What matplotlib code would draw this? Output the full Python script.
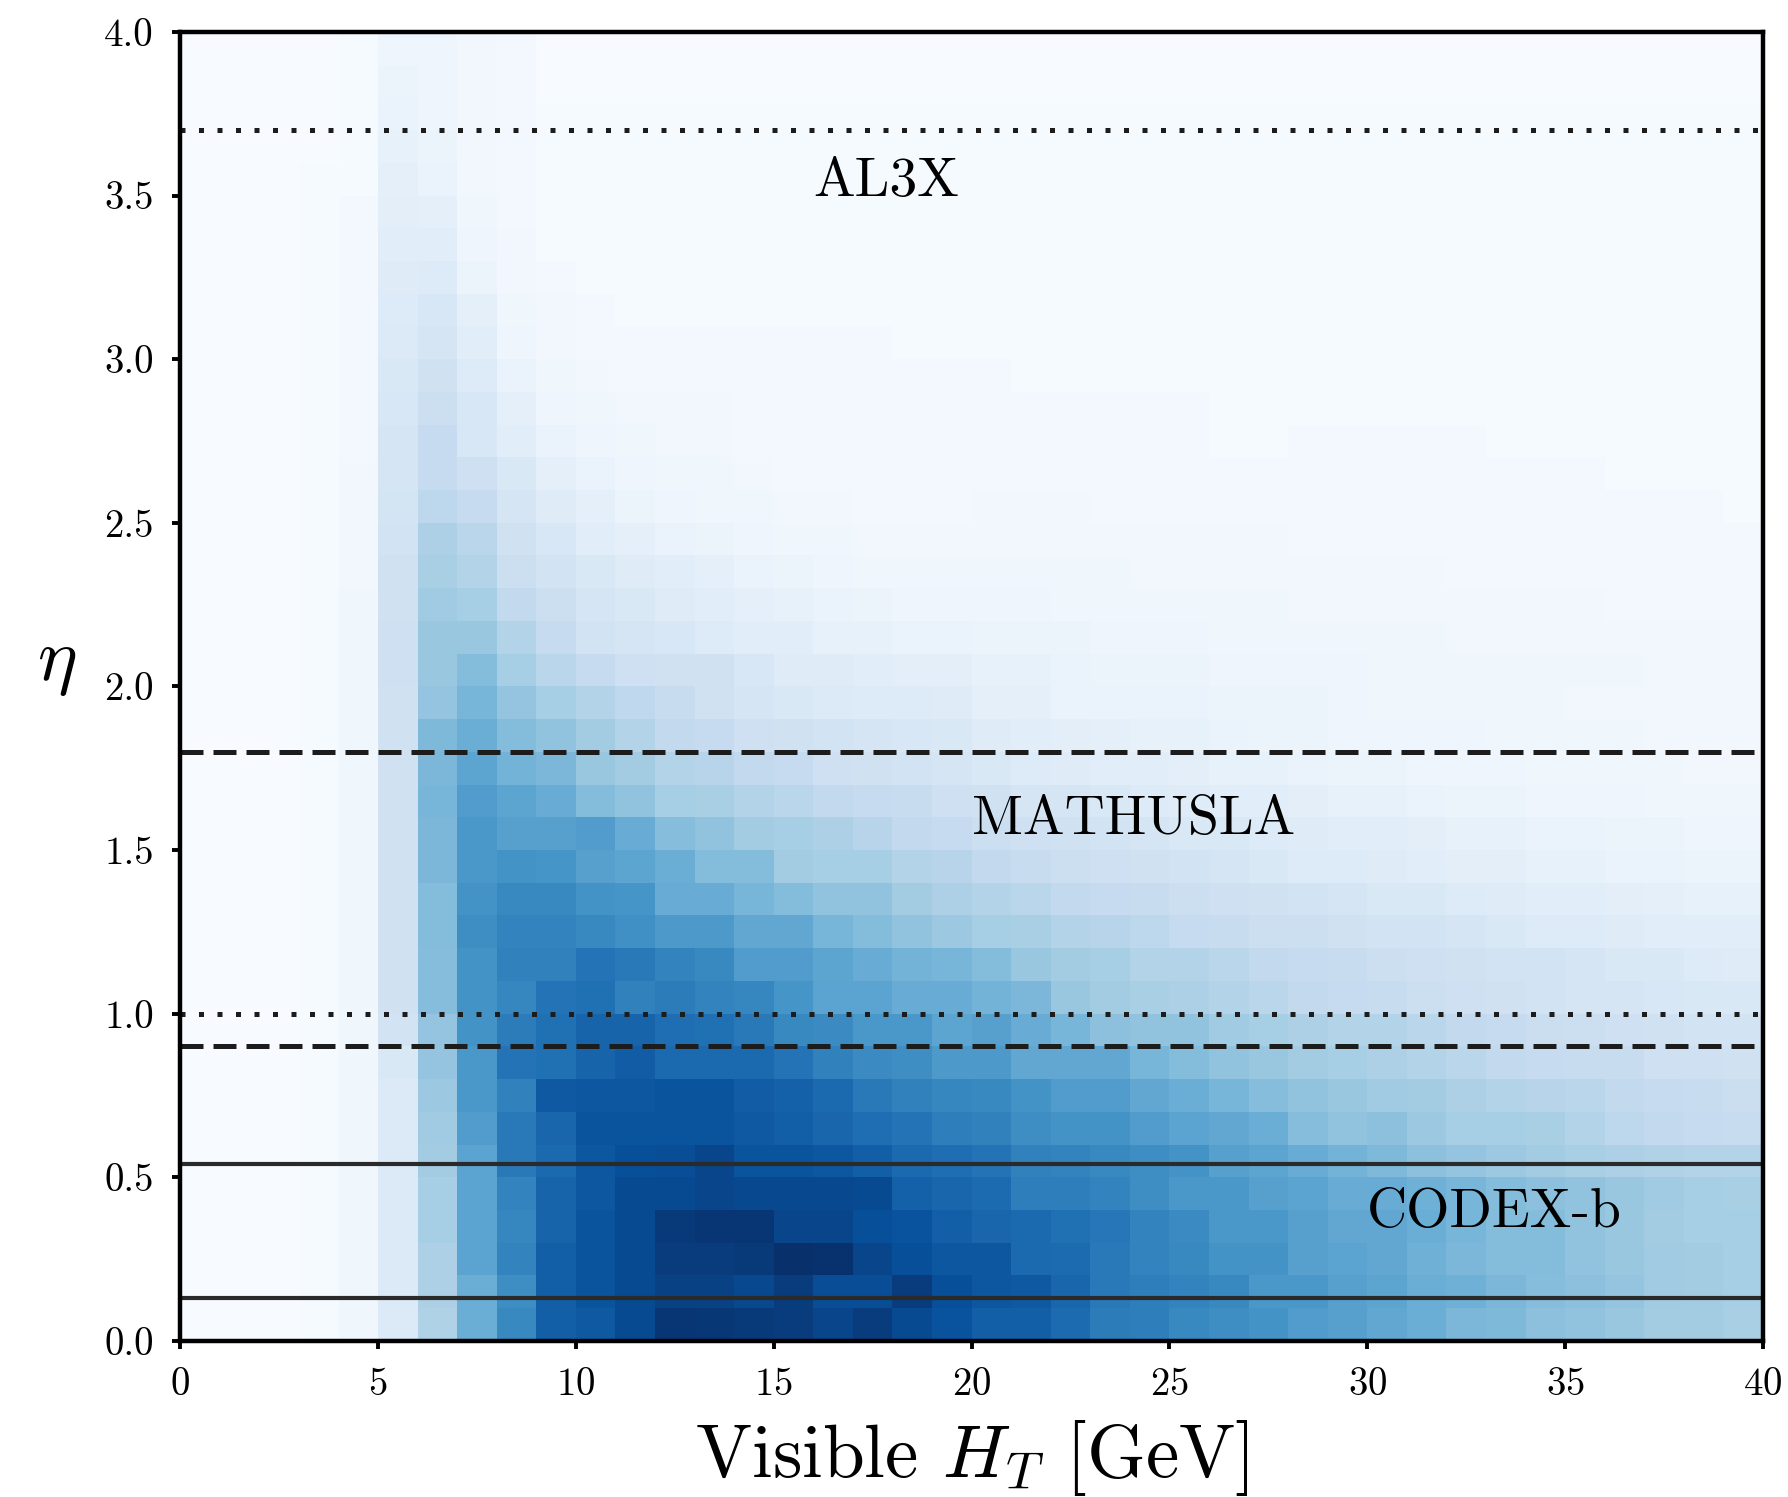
import numpy as np
import matplotlib
matplotlib.use("Agg")
import matplotlib.pyplot as plt
from matplotlib.ticker import FormatStrFormatter

plt.rcParams['font.family'] = 'serif'
plt.rcParams['font.serif'] = ['cmr10']
plt.rcParams['mathtext.fontset'] = 'cm'
plt.rcParams['axes.formatter.use_mathtext'] = True

# bin edges
ht_edges = list(range(0, 41))                      # Visible H_T [GeV]
eta_edges = [i / 10 for i in range(0, 41)]         # eta

# cell intensity (percent of colour scale), rows from eta=0.0-0.1 upward, columns H_T 0..39
density_pct = [
    [0,0,0,1,4,14,32,50,66,82, 84,90,98,97,96,95,92,95,90,87, 82,82,77,71,70,66,64,62,58,56, 53,50,46,45,42,41,39,36,36,34],
    [0,0,0,1,4,14,33,50,64,82, 86,90,93,93,91,95,89,89,95,88, 85,84,79,72,70,68,66,60,60,56, 54,50,49,46,43,42,40,37,36,35],
    [0,0,0,1,4,14,33,55,68,82, 86,90,95,95,96,100,99,92,88,85, 85,78,77,72,68,66,62,62,56,55, 53,49,46,44,44,41,39,37,36,35],
    [0,0,0,1,4,14,35,55,67,80, 86,90,96,98,98,92,92,88,87,82, 79,78,75,73,68,65,60,60,56,53, 53,50,47,44,44,41,39,36,35,35],
    [0,0,0,1,4,14,35,55,68,80, 85,90,90,92,91,91,91,90,81,79, 77,70,70,68,64,60,60,56,55,51, 51,49,47,44,42,41,39,37,35,34],
    [0,0,0,1,4,14,36,55,72,78, 85,88,89,92,86,86,85,82,78,76, 74,69,68,66,64,62,56,54,51,48, 45,42,40,38,36,34,33,32,31,31],
    [0,0,0,1,4,14,37,58,72,79, 86,86,86,86,84,82,79,76,74,70, 69,64,62,62,58,55,53,50,43,41, 42,38,35,35,34,31,28,26,25,24],
    [0,0,0,1,4,14,38,60,69,84, 85,85,86,86,83,81,78,72,69,67, 66,62,58,58,53,50,47,43,41,39, 37,36,33,31,30,29,26,25,24,23],
    [0,0,0,1,4,15,40,60,74,75, 80,83,78,78,78,74,69,65,64,59, 59,53,53,53,47,44,41,39,36,35, 33,31,29,26,25,24,24,21,21,20],
    [0,0,0,1,4,19,40,62,71,75, 80,80,76,75,72,66,65,60,60,54, 56,51,47,42,41,41,37,35,33,31, 31,29,26,25,23,22,21,20,19,19],
    [0,0,0,1,4,20,43,62,67,74, 75,69,71,68,67,61,55,55,51,51, 48,46,39,36,34,33,31,29,26,25, 24,22,21,20,19,17,17,16,15,15],
    [0,0,0,1,4,20,43,62,69,69, 74,72,68,66,58,58,54,51,48,47, 44,39,36,35,31,31,29,26,25,24, 22,21,20,19,19,17,15,15,13,12],
    [0,0,0,1,4,20,44,64,68,68, 66,63,59,59,53,53,47,44,41,38, 35,34,31,30,28,25,24,22,22,20, 19,19,17,15,13,13,12,11,11,11],
    [0,0,0,1,4,20,44,62,66,66, 62,61,51,51,47,44,41,41,36,33, 31,29,26,25,24,22,21,20,19,17, 15,15,13,12,11,11,10,9,8,8],
    [0,0,0,1,4,20,46,60,62,61, 56,54,50,44,44,36,35,35,31,30, 26,24,22,21,20,19,17,15,13,13, 12,11,10,10,8,8,7,7,6,6],
    [0,0,0,1,4,20,46,60,56,56, 58,51,43,41,36,35,33,30,26,25, 22,21,20,19,17,15,15,13,12,11, 11,10,8,8,7,7,6,6,5,5],
    [0,0,0,1,4,20,47,58,54,51, 44,41,35,34,31,29,26,25,24,21, 20,17,17,15,13,12,11,11,10,8, 8,7,6,6,5,5,5,4,4,4],
    [0,0,0,1,4,20,46,54,48,46, 39,36,31,30,26,25,21,20,19,17, 15,13,12,11,11,10,8,8,7,6, 6,5,5,5,4,4,4,4,3,3],
    [0,0,0,1,4,20,45,50,44,41, 36,31,26,25,21,20,19,17,16,15, 12,11,10,9,8,8,7,6,6,5, 5,5,5,4,4,4,4,3,3,3],
    [0,0,0,1,4,20,40,47,40,35, 31,27,24,20,17,15,14,13,13,12, 9,9,7,7,7,7,6,6,6,5, 4,4,4,4,4,3,3,3,3,3],
    [0,0,0,1,4,21,39,44,35,29, 25,21,20,20,16,12,12,11,10,10, 8,8,7,6,6,6,5,5,5,5, 4,4,4,4,4,4,4,3,3,3],
    [0,0,0,1,4,21,39,39,31,25, 19,17,16,13,11,11,8,8,7,7, 6,6,6,5,5,5,4,4,4,4, 4,4,3,3,3,3,3,3,3,3],
    [0,0,0,1,4,20,37,35,26,22, 17,15,12,11,9,8,7,6,5,5, 5,5,4,4,4,4,4,4,3,3, 3,3,3,3,3,3,2,2,2,2],
    [0,0,0,1,3,20,34,31,22,19, 15,12,11,9,7,6,5,4,4,4, 4,4,4,4,3,3,3,3,3,3, 3,3,2,2,2,2,2,2,2,2],
    [0,0,0,1,3,19,33,29,20,16, 11,9,7,6,5,4,4,3,3,3, 3,3,3,3,3,3,3,3,2,2, 2,2,2,2,2,2,2,2,2,2],
    [0,0,0,1,3,18,28,25,17,12, 9,6,5,4,4,3,3,2,2,2, 3,3,3,2,2,2,2,2,2,2, 2,2,2,2,2,2,2,2,2,1],
    [0,0,0,1,3,17,25,21,15,9, 7,5,4,4,3,2,2,2,2,2, 2,2,2,2,2,2,2,2,2,2, 2,2,2,2,2,2,1,1,1,1],
    [0,0,0,1,2,17,25,16,11,7, 5,4,3,3,2,2,2,2,2,2, 2,2,2,2,2,2,1,1,2,2, 2,2,2,1,1,1,1,1,1,1],
    [0,0,0,1,2,16,22,16,9,5, 4,3,3,3,2,2,2,2,2,2, 2,2,2,2,2,2,1,1,1,1, 1,1,1,1,1,1,1,1,1,1],
    [0,0,0,1,2,15,20,13,7,4, 3,2,2,2,2,2,2,2,2,2, 2,1,1,1,1,1,1,1,1,1, 1,1,1,1,1,1,1,1,1,1],
    [0,0,0,1,2,14,17,11,5,3, 2,2,2,2,2,2,2,2,1,1, 1,1,1,1,1,1,1,1,1,1, 1,1,1,1,1,1,1,1,1,1],
    [0,0,0,1,2,13,16,9,4,3, 2,1,1,1,1,1,1,1,1,1, 1,1,1,1,1,1,1,1,1,1, 1,1,1,1,1,1,1,1,1,1],
    [0,0,0,1,2,12,13,6,3,2, 1,1,1,1,1,1,1,1,1,1, 1,1,1,1,1,1,1,1,1,1, 1,1,1,1,1,1,1,1,1,1],
    [0,0,0,1,2,11,11,5,3,1, 1,1,1,1,1,1,1,1,1,1, 1,1,1,1,1,1,1,1,1,1, 1,1,1,1,1,1,1,1,1,1],
    [0,0,0,1,2,10,9,4,2,1, 1,1,1,1,1,1,1,1,1,1, 1,1,1,1,1,1,1,1,1,1, 1,1,1,1,1,1,1,1,1,1],
    [0,0,0,1,1,9,7,3,2,1, 1,1,1,1,1,1,1,1,1,1, 1,1,1,1,1,1,1,1,1,1, 1,1,1,1,1,1,1,1,1,1],
    [0,0,0,0,1,8,6,3,2,1, 1,1,1,1,1,1,1,1,1,1, 1,1,1,1,1,1,1,1,1,1, 1,1,1,1,1,1,1,1,1,1],
    [0,0,0,0,1,7,5,3,2,1, 1,1,1,1,1,1,1,1,1,1, 1,1,1,1,1,1,1,1,1,1, 1,1,1,1,1,1,1,1,1,1],
    [0,0,0,0,1,6,5,3,2,0, 0,0,0,0,0,0,0,0,0,0, 0,0,0,0,0,0,0,0,0,0, 0,0,0,0,0,0,0,0,0,0],
    [0,0,0,0,1,5,5,3,2,0, 0,0,0,0,0,0,0,0,0,0, 0,0,0,0,0,0,0,0,0,0, 0,0,0,0,0,0,0,0,0,0],
]

# detector acceptance boundaries (eta)
al3x_eta = [1.0, 3.7]
mathusla_eta = [0.9, 1.8]
codexb_eta = [0.13, 0.54]

detector_names = ['AL3X', 'MATHUSLA', 'CODEX-b']
label_x = [16, 20, 30]
label_eta = [3.50, 1.55, 0.348]

xticks = [0, 5, 10, 15, 20, 25, 30, 35, 40]
yticks = [0.0, 0.5, 1.0, 1.5, 2.0, 2.5, 3.0, 3.5, 4.0]

fig = plt.figure(figsize=(8.94, 7.485), dpi=200)
ax = fig.add_axes([0.1008, 0.1043, 0.8852, 0.8744])

Z = np.array(density_pct, dtype=float) / 100.0
ax.pcolormesh(ht_edges, eta_edges, Z, cmap='Blues', vmin=0, vmax=1, shading='flat',
              rasterized=True)

line_col = '#1c1c1c'
for e in al3x_eta:
    ax.axhline(e, color=line_col, lw=1.8, linestyle=(0, (1, 2.7)))
for e in mathusla_eta:
    ax.axhline(e, color=line_col, lw=1.8, linestyle=(0, (4.6, 2.0)))
for e in codexb_eta:
    ax.axhline(e, color='#2a2a2a', lw=1.5, linestyle='-')

for name, xx, yy in zip(detector_names, label_x, label_eta):
    ax.text(xx, yy, name, fontsize=20, ha='left', va='baseline', color='black')

ax.set_xlim(0, 40)
ax.set_ylim(0, 4)
ax.set_xticks(xticks)
ax.set_yticks(yticks)
ax.yaxis.set_major_formatter(FormatStrFormatter('%.1f'))
ax.tick_params(axis='both', labelsize=14, length=3, width=1.4, direction='out', pad=6.5)
for sp in ax.spines.values():
    sp.set_linewidth(1.6)

ax.set_xlabel(r'Visible $H_T$ [GeV]', fontsize=27)
ax.xaxis.set_label_coords(0.5, -0.104)
ax.xaxis.label.set_va('baseline')
ax.set_ylabel(r'$\eta$', fontsize=27, rotation=0)
ax.yaxis.set_label_coords(-0.078, 0.517)
ax.yaxis.label.set_va('center')
ax.yaxis.label.set_ha('center')

fig.savefig('out.png', dpi=200)
